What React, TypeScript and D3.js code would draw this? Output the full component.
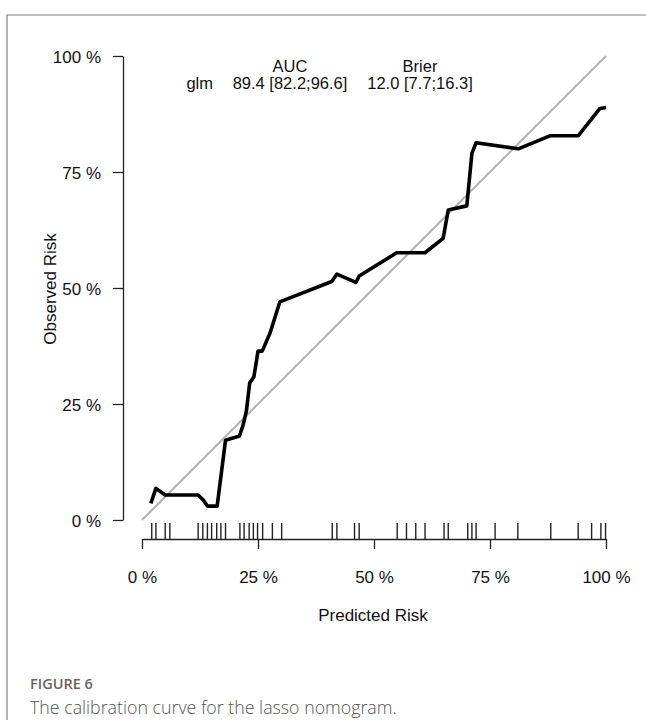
import { useRef, useEffect } from "react";
import * as d3 from "d3";

// calibration curve (percent)
const predicted = [
  1.9, 3.0, 5.0, 12.1, 13.2, 14.1, 16.2, 18.0, 21.0, 21.8, 22.5, 23.2, 24.1,
  24.7, 25.0, 25.9, 27.6, 29.7, 40.9, 42.0, 46.1, 46.8, 54.9, 61.0, 62.0,
  64.9, 66.0, 70.0, 71.1, 72.0, 81.1, 87.9, 94.0, 98.7, 100.0,
];
const observed = [
  3.6, 6.8, 5.4, 5.4, 4.3, 3.0, 3.0, 17.2, 18.1, 20.5, 23.5, 29.5, 30.8,
  34.5, 36.4, 36.4, 40.3, 47.0, 51.4, 53.0, 51.2, 52.6, 57.6, 57.6, 58.4,
  60.7, 66.8, 67.7, 79.0, 81.3, 80.0, 82.8, 82.8, 88.7, 88.9,
];

// rug of predicted risks
const rug = [
  2.1, 3.0, 5.0, 6.0, 12.1, 13.1, 14.1, 15.0, 16.1, 17.0, 18.0, 21.1, 22.0,
  23.1, 24.0, 24.9, 26.0, 28.1, 30.1, 41.0, 42.0, 45.8, 46.8, 55.0, 57.0,
  59.0, 61.0, 65.1, 66.0, 70.2, 71.1, 72.0, 76.1, 81.0, 88.1, 94.0, 96.9,
  98.9, 99.9,
];

const ticks = [0, 25, 50, 75, 100];
const legendModel = "glm";
const legendAuc = "89.4 [82.2;96.6]";
const legendBrier = "12.0 [7.7;16.3]";

const font = "'Liberation Sans', Arial, Helvetica, sans-serif";

export default function App() {
  const svgRef = useRef<SVGSVGElement>(null);

  useEffect(() => {
    if (!svgRef.current) return;
    const svg = d3.select(svgRef.current);
    svg.selectAll("*").remove();

    const x = d3.scaleLinear().domain([0, 100]).range([142, 606]);
    const y = d3.scaleLinear().domain([0, 100]).range([520, 56]);

    // figure frame
    svg
      .append("path")
      .attr("d", "M7,720 V15 H646")
      .attr("fill", "none")
      .attr("stroke", "#808080")
      .attr("stroke-width", 1.2);

    // y axis
    const yAxis = svg
      .append("g")
      .attr("transform", "translate(123,0)")
      .call(
        d3
          .axisLeft(y)
          .tickValues(ticks)
          .tickSize(10)
          .tickSizeOuter(0)
          .tickPadding(12)
          .tickFormat((d) => `${d} %`)
      );
    yAxis.selectAll("line, path").attr("stroke", "#222").attr("stroke-width", 1.3);
    yAxis
      .selectAll("text")
      .attr("fill", "#111")
      .attr("font-size", 17)
      .attr("font-family", font)
      .attr("dy", "0.4em");

    // x axis
    const xAxis = svg
      .append("g")
      .attr("transform", "translate(0,539)")
      .call(
        d3
          .axisBottom(x)
          .tickValues(ticks)
          .tickSize(10)
          .tickSizeOuter(0)
          .tickPadding(22)
          .tickFormat((d) => `${d} %`)
      );
    xAxis.selectAll("line, path").attr("stroke", "#222").attr("stroke-width", 1.3);
    xAxis
      .selectAll("text")
      .attr("fill", "#111")
      .attr("font-size", 17)
      .attr("font-family", font);

    // rug
    svg
      .append("g")
      .selectAll("line")
      .data(rug)
      .join("line")
      .attr("x1", (d) => x(d))
      .attr("x2", (d) => x(d))
      .attr("y1", 539)
      .attr("y2", 523)
      .attr("stroke", "#222")
      .attr("stroke-width", 1.4);

    // reference diagonal
    svg
      .append("line")
      .attr("x1", x(0))
      .attr("y1", y(0))
      .attr("x2", x(100))
      .attr("y2", y(100))
      .attr("stroke", "#b4b4b4")
      .attr("stroke-width", 2.2);

    // calibration curve
    const pts: [number, number][] = predicted.map((p, i) => [p, observed[i]]);
    const line = d3
      .line<[number, number]>()
      .x((d) => x(d[0]))
      .y((d) => y(d[1]));
    svg
      .append("path")
      .datum(pts)
      .attr("fill", "none")
      .attr("stroke", "#000")
      .attr("stroke-width", 3.6)
      .attr("stroke-linejoin", "round")
      .attr("d", line);

    // legend: headers centred over their columns
    const lg = svg
      .append("g")
      .attr("font-family", font)
      .attr("font-size", 16.5)
      .attr("fill", "#111");
    lg.append("text").attr("x", 290).attr("y", 72).attr("text-anchor", "middle").text("AUC");
    lg.append("text").attr("x", 420).attr("y", 72).attr("text-anchor", "middle").text("Brier");
    lg.append("text").attr("x", 213).attr("y", 89).attr("text-anchor", "end").text(legendModel);
    lg.append("text").attr("x", 290).attr("y", 89).attr("text-anchor", "middle").text(legendAuc);
    lg.append("text").attr("x", 420).attr("y", 89).attr("text-anchor", "middle").text(legendBrier);

    // axis titles
    svg
      .append("text")
      .attr("x", 373)
      .attr("y", 621)
      .attr("text-anchor", "middle")
      .attr("font-family", font)
      .attr("font-size", 17)
      .attr("fill", "#111")
      .text("Predicted Risk");
    svg
      .append("text")
      .attr("transform", "translate(56,289) rotate(-90)")
      .attr("text-anchor", "middle")
      .attr("font-family", font)
      .attr("font-size", 17)
      .attr("fill", "#111")
      .text("Observed Risk");

    // caption
    svg
      .append("text")
      .attr("x", 30)
      .attr("y", 689)
      .attr("font-family", "'Open Sans', 'Noto Sans', sans-serif")
      .attr("font-size", 14.5)
      .attr("font-weight", 600)
      .attr("fill", "#6e625e")
      .text("FIGURE 6");
    svg
      .append("text")
      .attr("x", 30)
      .attr("y", 714)
      .attr("font-family", "'Open Sans', 'Noto Sans', sans-serif")
      .attr("font-size", 17.8)
      .attr("font-weight", 300)
      .attr("fill", "#555")
      .text("The calibration curve for the lasso nomogram.");
  }, []);

  return (
    <div style={{ position: "absolute", left: 0, top: 0, width: 646, height: 720, background: "#fff" }}>
      <svg ref={svgRef} width={646} height={720} style={{ display: "block" }} />
    </div>
  );
}
